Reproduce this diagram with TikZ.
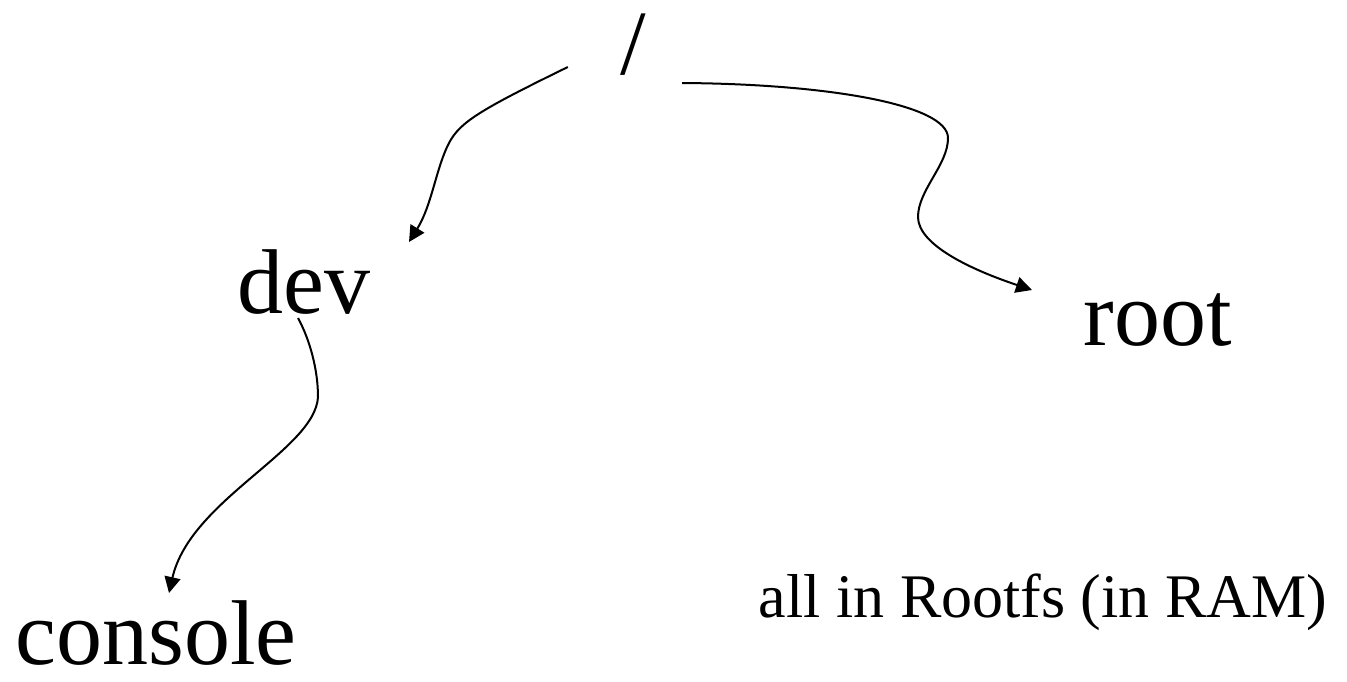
\documentclass[tikz,border=0pt]{standalone}
\usepackage{fontspec}
\setmainfont{Liberation Serif}
\usetikzlibrary{arrows.meta}

\begin{document}
\begin{tikzpicture}[x=0.5pt,y=-0.5pt,
        big/.style={inner sep=0pt,anchor=base,font=\fontsize{46}{50}\selectfont},
        small/.style={inner sep=0pt,anchor=base,font=\fontsize{31}{35}\selectfont},
        arr/.style={line width=1pt,-{Triangle[length=8pt,width=8pt]}}]
        \useasboundingbox (0,0) rectangle (1347,681);
        %目录节点
        \node [big] (slash) at (633,74) {/};
        \node [big] (dev) at (304,313) {dev};
        \node [big] (root) at (1158,345) {root};
        \node [big] (console) at (156,664) {console};
        %说明
        \node [small] (note) at (1043,617) {all in Rootfs (in RAM)};
        %箭头
        \draw [arr] ([shift={(-52,-7)}]slash.base west) .. controls (480,110) and (460,122) .. (449,143)
            .. controls (436,168) and (432,205) .. ([shift={(105,-71)}]dev.base);
        \draw [arr] ([shift={(36,9)}]slash.base east) .. controls (830,84) and (948,105) .. (948,138)
            .. controls (948,165) and (918,190) .. (918,217)
            .. controls (918,245) and (972,270) .. ([shift={(-126,-55)}]root.base);
        \draw [arr] ([shift={(-6,5)}]dev.base) .. controls (310,340) and (318,370) .. (318,397)
            .. controls (315,450) and (190,500) .. ([shift={(13,-71)}]console.base);
\end{tikzpicture}
\end{document}
